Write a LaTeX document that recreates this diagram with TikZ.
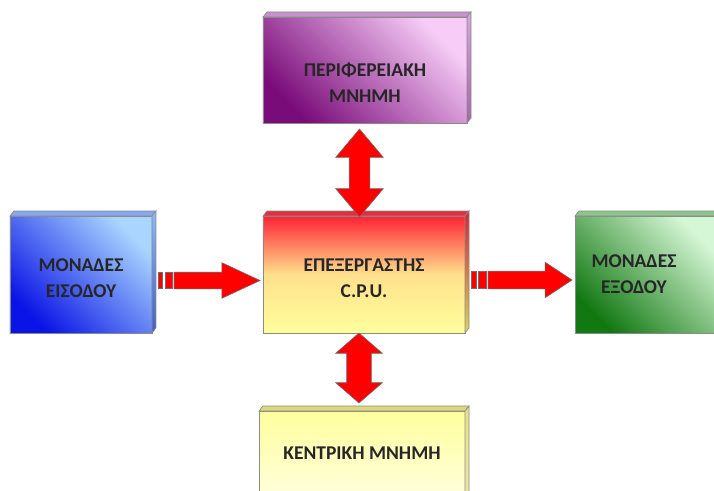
\documentclass[tikz,border=0pt]{standalone}
\usepackage{fontspec}
\setmainfont{Carlito}
\usepackage{xcolor}
\usepackage{tikz}
\usetikzlibrary{positioning, shapes.arrows, calc}

\definecolor{edgegray}{HTML}{8A8A8A}
\definecolor{arrowgray}{HTML}{6E6E6E}
\definecolor{txtgray}{HTML}{262626}
\definecolor{purL}{HTML}{F7CDF7}
\definecolor{purD}{HTML}{7A0C7A}
\definecolor{purT}{HTML}{C793CC}
\definecolor{purS1}{HTML}{D6A6DA}
\definecolor{purS2}{HTML}{A565AA}
\definecolor{bluL}{HTML}{A9D6FF}
\definecolor{bluD}{HTML}{0A14E6}
\definecolor{bluT}{HTML}{86A6EE}
\definecolor{bluS1}{HTML}{8FB8F5}
\definecolor{bluS2}{HTML}{3F5FC8}
\definecolor{grnL}{HTML}{D6F7D6}
\definecolor{grnD}{HTML}{127812}
\definecolor{grnT}{HTML}{8CC48C}
\definecolor{grnS1}{HTML}{9ACD9A}
\definecolor{grnS2}{HTML}{5E9E5E}
\definecolor{cpuR}{HTML}{FF2236}
\definecolor{cpuO}{HTML}{FFE08C}
\definecolor{cpuY}{HTML}{FFFF9C}
\definecolor{cpuT}{HTML}{E0303F}
\definecolor{cpuS1}{HTML}{D02636}
\definecolor{cpuS2}{HTML}{D6D463}
\definecolor{memY}{HTML}{FFFF9E}
\definecolor{memW}{HTML}{FFFFF2}
\definecolor{memT}{HTML}{DADA7C}
\definecolor{memS1}{HTML}{E2E287}
\definecolor{memS2}{HTML}{ECECB5}

\begin{document}
\begin{tikzpicture}[
    x=1pt, y=1pt,
    block/.style={draw=edgegray, line width=0.6pt, inner sep=0pt, outer sep=0pt, minimum width=142pt, minimum height=117pt},
    txt/.style={align=center, font=\fontsize{19.5}{26}\selectfont\bfseries, text=txtgray},
    fat/.style={fill=red, draw=arrowgray, line width=0.6pt, inner xsep=0pt, outer sep=0pt},
    stripe/.style={fat, inner sep=0pt, minimum height=16pt}
]
\path[use as bounding box, fill=white] (-364,274.5) rectangle (350,-215.5);
\clip (-364,274.5) rectangle (350,-215.5);

% units: processor in the middle, the rest around it
\node[block, minimum width=202pt, top color=cpuR, bottom color=cpuY, middle color=cpuO] (cpu) at (0,0) {};
\node[block, minimum width=204pt, minimum height=106pt, above=93pt of cpu, xshift=1pt, top color=purL, bottom color=purD, shading angle=-45] (top) {};
\node[block, left=111pt of cpu, top color=bluL, bottom color=bluD, shading angle=-45] (inp) {};
\node[block, right=110pt of cpu, top color=grnL, bottom color=grnD, shading angle=-45] (out) {};
\node[block, minimum width=206pt, below=78pt of cpu, xshift=-2pt, top color=memY, bottom color=memW] (mem) {};

% 3d faces (top and right side)
\foreach \b/\tc/\sa/\sb in {top/purT/purS1/purS2, inp/bluT/bluS1/bluS2, cpu/cpuT/cpuS1/cpuS2, out/grnT/grnS1/grnS2, mem/memT/memS1/memS2}{
  \draw[draw=edgegray, line width=0.6pt, fill=\tc] (\b.north west) -- ++(4,5) -- ([shift={(4,5)}]\b.north east) -- (\b.north east) -- cycle;
  \draw[draw=edgegray, line width=0.6pt, top color=\sa, bottom color=\sb] (\b.north east) -- ++(4,5) -- ([shift={(4,5)}]\b.south east) -- (\b.south east) -- cycle;
}

\node[txt] (topT) at ([yshift=-13pt]top.center) {ΠΕΡΙΦΕΡΕΙΑΚΗ\\ΜΝΗΜΗ};
\node[txt] (cpuT) at ([yshift=-4pt]cpu.center) {ΕΠΕΞΕΡΓΑΣΤΗΣ\\C.P.U.};
\node[txt] (inpT) at ([yshift=-4pt]inp.center) {ΜΟΝΑΔΕΣ\\ΕΙΣΟΔΟΥ};
\node[txt] (outT) at ([xshift=-12pt]out.center) {ΜΟΝΑΔΕΣ\\ΕΞΟΔΟΥ};
\node[txt] (memT) at ([yshift=16pt]mem.center) {ΚΕΝΤΡΙΚΗ ΜΝΗΜΗ};

% block arrows (shaft width = 2 x inner ysep)
\node[fat, double arrow, rotate=90, inner ysep=10pt, minimum height=88pt, double arrow head extend=13.5pt, double arrow tip angle=80] (a1) at ($(top.south)!.5!(cpu.north)+(-5,-3.5)$) {};
\node[fat, double arrow, rotate=90, inner ysep=12pt, minimum height=70pt, double arrow head extend=11pt, double arrow tip angle=98] (a2) at ($(cpu.south)!.5!(mem.north)+(-4,4)$) {};

\node[fat, single arrow, inner ysep=8pt, minimum height=86pt, single arrow head extend=9.5pt, single arrow tip angle=50, right=22pt of inp, yshift=-6pt] (a3) {};
\node[stripe, minimum width=7pt, left=2pt of a3] (s3b) {};
\node[stripe, minimum width=4pt, left=3pt of s3b] (s3a) {};

\node[fat, single arrow, inner ysep=8.5pt, minimum height=84pt, single arrow head extend=9pt, single arrow tip angle=67, right=23pt of cpu, yshift=-5.5pt] (a4) {};
\node[stripe, minimum height=17pt, minimum width=8pt, left=2pt of a4] (s4b) {};
\node[stripe, minimum height=17pt, minimum width=5pt, left=2pt of s4b] (s4a) {};
\end{tikzpicture}
\end{document}
